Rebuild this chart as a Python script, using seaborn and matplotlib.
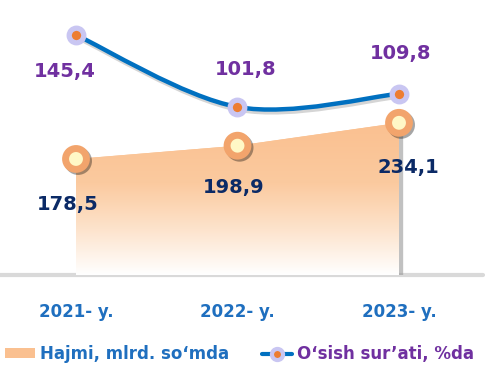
import numpy as np
import matplotlib
matplotlib.use("Agg")
import matplotlib.pyplot as plt
import matplotlib.patheffects as pe
from matplotlib.path import Path
from matplotlib.patches import PathPatch, Patch
from matplotlib.lines import Line2D
from matplotlib.colors import LinearSegmentedColormap
import seaborn as sns

# Data
years = ["2021- y.", "2022- y.", "2023- y."]
volume = [178.5, 198.9, 234.1]          # Hajmi, mlrd. so'mda
growth = [145.4, 101.8, 109.8]          # O'sish sur'ati, %da
volume_labels = ["178,5", "198,9", "234,1"]
growth_labels = ["145,4", "101,8", "109,8"]

# label offsets (points)
vol_off = [(-6, -33), (-3, -30), (7, -32)]
gr_off = [(-8, -26), (6, 27), (1, 29)]

BLUE = "#0070c0"
TXT_BLUE = "#1f6fbf"
PURPLE = "#7030a0"
NAVY = "#0b2a66"
ORANGE = "#fac090"

sns.set_style("white")
plt.rcParams["font.family"] = ["DejaVu Sans"]

fig = plt.figure(figsize=(5.03, 3.78), dpi=100)
ax = fig.add_axes([0, 103 / 378, 1, 275 / 378])
ax2 = ax.twinx()

x = np.arange(len(years))
ax.set_xlim(-76 / 161.5, (503 - 76) / 161.5)
ax.set_ylim(0, 423)
ax2.set_ylim(0, 166.6)

# area with gradient
poly = ax.fill_between(x, volume, 0, color=ORANGE, lw=0, zorder=1,
                       path_effects=[pe.SimplePatchShadow(offset=(3, -1), shadow_rgbFace="#999999", alpha=0.6),
                                     pe.Normal()])
cmap = LinearSegmentedColormap.from_list(
    "grad", [(0, "#ffffff"), (0.3, "#fde3cc"), (0.6, "#fbca9f"), (1, ORANGE)])
grad = np.linspace(0, 1, 256).reshape(-1, 1)
im = ax.imshow(grad, cmap=cmap, origin="lower", aspect="auto",
               extent=[x[0], x[-1], 0, max(volume)], zorder=2)
im.set_clip_path(poly.get_paths()[0], transform=ax.transData)
ax.set_xlim(-76 / 161.5, (503 - 76) / 161.5)
ax.set_ylim(0, 423)

ax.axhline(0, xmin=0, xmax=0.96, color="#d9d9d9", lw=3, clip_on=False, zorder=0)

sns.lineplot(x=x, y=volume, ax=ax, marker="o", linestyle="", markersize=15,
             markeredgewidth=5, markerfacecolor="#fff8c6", markeredgecolor="#f2a46c",
             zorder=4, path_effects=[pe.SimpleLineShadow(offset=(1.5, -1.5), alpha=0.35), pe.Normal()])

# smooth growth line (Catmull-Rom through data points)
pts = np.column_stack([x, growth]).astype(float)
ext = np.vstack([pts[0], pts, pts[-1]])
verts = [pts[0]]
codes = [Path.MOVETO]
for i in range(len(pts) - 1):
    p0, p1, p2, p3 = ext[i], ext[i + 1], ext[i + 2], ext[i + 3]
    verts += [p1 + (p2 - p0) / 6, p2 - (p3 - p1) / 6, p2]
    codes += [Path.CURVE4] * 3
curve = PathPatch(Path(verts, codes), fill=False, edgecolor=BLUE, lw=3.2, zorder=3,
                  path_effects=[pe.SimpleLineShadow(offset=(1, -2), shadow_color="#888888", alpha=0.35),
                                pe.Normal()])
ax2.add_patch(curve)

sns.lineplot(x=x, y=growth, ax=ax2, marker="o", linestyle="", markersize=10.5,
             markeredgewidth=3.8, markerfacecolor="#ed7d31", markeredgecolor="#c9c6f2",
             zorder=5)

for i in range(len(x)):
    ax.annotate(volume_labels[i], (x[i], volume[i]), xytext=vol_off[i], textcoords="offset points",
                ha="center", va="center", fontsize=14, fontweight="bold", color=NAVY, zorder=6)
    ax2.annotate(growth_labels[i], (x[i], growth[i]), xytext=gr_off[i], textcoords="offset points",
                 ha="center", va="center", fontsize=14, fontweight="bold", color=PURPLE, zorder=6)

ax.set_xticks(x, labels=years)
ax.tick_params(axis="x", length=0, pad=20, labelsize=12, labelcolor=TXT_BLUE)
for t in ax.get_xticklabels():
    t.set_fontweight("bold")
ax.set_yticks([])
ax2.set_yticks([])
ax.set_xlabel("")
ax.set_ylabel("")
ax2.set_xlabel("")
ax2.set_ylabel("")
for a in (ax, ax2):
    for s in a.spines.values():
        s.set_visible(False)

handles = [Patch(facecolor=ORANGE, edgecolor="none"),
           Line2D([0], [0], color=BLUE, lw=3, marker="o", markersize=8, markeredgewidth=3,
                  markerfacecolor="#ed7d31", markeredgecolor="#c9c6f2")]
leg = fig.legend(handles, ["Hajmi, mlrd. so\u2018mda", "O\u2018sish sur\u2019ati, %da"],
                 loc="center left", bbox_to_anchor=(5 / 503, 1 - 354 / 378), ncol=2,
                 frameon=False, borderpad=0, borderaxespad=0, handlelength=1.8,
                 handleheight=0.5, handletextpad=0.3, columnspacing=2.0,
                 prop={"size": 12, "weight": "bold"})
for t, c in zip(leg.get_texts(), [TXT_BLUE, PURPLE]):
    t.set_color(c)

fig.savefig("out.png", dpi=100)
